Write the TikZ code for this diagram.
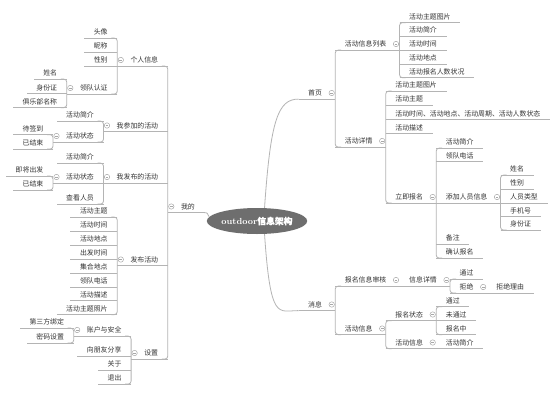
\documentclass[tikz,border=0pt]{standalone}
\usepackage{fontspec}
\usetikzlibrary{shapes.geometric,calc}
\newfontfamily\cjk{Noto Sans CJK SC}
\newfontfamily\cjkb[FakeBold=0.8]{Noto Sans CJK SC}
\definecolor{txt}{HTML}{333333}
\definecolor{lc}{HTML}{B4B4B4}
\definecolor{mc}{HTML}{A8A8A8}
\definecolor{rootc}{HTML}{6E6E6E}
\tikzset{
  base/.style={font=\cjk\fontsize{6.9}{8}\selectfont, text=txt, inner xsep=9.5pt, inner ysep=2.4pt, text height=6pt, text depth=1pt},
  rn/.style={base, anchor=west},
  lnd/.style={base, anchor=east},
  ul/.style={draw=lc, line width=0.8pt},
  tr/.style={ul, rounded corners=3pt},
  mk/.style={circle, draw=mc, fill=white, line width=0.5pt, inner sep=0pt, minimum size=5.4pt,
    path picture={\draw[mc, line width=0.5pt] ([xshift=-1.4pt]path picture bounding box.center) -- ([xshift=1.4pt]path picture bounding box.center);}},
  rootn/.style={ellipse, fill=rootc, text=white, minimum width=88pt, minimum height=26pt, inner sep=0pt}
}
% right side
\newcommand\myRL[4]{\node[rn] (#1) at (#2 |- 0,#3) {#4}; \draw[ul] (#1.south west) -- (#1.south east);}
\newcommand\myRP[4]{\node[rn] (#1) at (#2 |- 0,#3) {#4}; \coordinate (t#1) at ($(#1.south east)+(3.5,0)$); \draw[ul] (#1.south west) -- (t#1); \node[mk] at (#1.east) {};}
\newcommand\myTR[2]{\draw[tr] ($(#1.south west)+(6,0)$) -- (#1.south west) -- (#2.south west) -- ($(#2.south west)+(6,0)$);}
% left side
\newcommand\myLL[4]{\node[lnd] (#1) at (#2 |- 0,#3) {#4}; \draw[ul] (#1.south east) -- (#1.south west);}
\newcommand\myLP[4]{\node[lnd] (#1) at (#2 |- 0,#3) {#4}; \coordinate (t#1) at ($(#1.south west)-(3.5,0)$); \draw[ul] (#1.south east) -- (t#1); \node[mk] at (#1.west) {};}
\newcommand\myTL[2]{\draw[tr] ($(#1.south east)-(6,0)$) -- (#1.south east) -- (#2.south east) -- ($(#2.south east)-(6,0)$);}
\begin{document}
\begin{tikzpicture}[x=1pt,y=-1pt]
\fill[white] (0,0) rectangle (554,413);
\useasboundingbox (0,0) rectangle (554,413);

% root
\node[rootn] (root) at (257,221) {\fontsize{8.8}{10}\selectfont\bfseries outdoor{\cjkb 信息架构}};

% ---------------- right: 首页
\coordinate (c0r) at (298.5,0);
\myRP{sy}{c0r}{93}{首页}
\draw[ul] (root.60) .. controls +(6,-88) and +(-20.5,0) .. (sy.south west);
\myRP{hdlb}{tsy}{44}{活动信息列表}
\myRP{hdxq}{tsy}{141}{活动详情}
\myTR{hdlb}{hdxq}
\myRL{a1}{thdlb}{16.5}{活动主题图片}
\myRL{a2}{thdlb}{30.3}{活动简介}
\myRL{a3}{thdlb}{44}{活动时间}
\myRL{a4}{thdlb}{57.8}{活动地点}
\myRL{a5}{thdlb}{71.6}{活动报名人数状况}
\myTR{a1}{a5}
\myRL{b1}{thdxq}{85}{活动主题图片}
\myRL{b2}{thdxq}{99}{活动主题}
\myRL{b3}{thdxq}{113.5}{活动时间、活动地点、活动周期、活动人数状态}
\myRL{b4}{thdxq}{127.5}{活动描述}
\myRP{ljbm}{thdxq}{197}{立即报名}
\myTR{b1}{ljbm}
\myRL{c1}{tljbm}{142}{活动简介}
\myRL{c2}{tljbm}{155.5}{领队电话}
\myRP{tjry}{tljbm}{197}{添加人员信息}
\myRL{c4}{tljbm}{238}{备注}
\myRL{c5}{tljbm}{252}{确认报名}
\myTR{c1}{c5}
\myRL{d1}{ttjry}{169}{姓名}
\myRL{d2}{ttjry}{183}{性别}
\myRL{d3}{ttjry}{197}{人员类型}
\myRL{d4}{ttjry}{210.5}{手机号}
\myRL{d5}{ttjry}{224}{身份证}
\myTR{d1}{d5}

% ---------------- right: 消息
\myRP{xx}{c0r}{304.5}{消息}
\draw[ul] (root.-60) .. controls +(6,88) and +(-20.5,0) .. (xx.south west);
\myRP{bmsh}{txx}{280}{报名信息审核}
\myRP{hdxx}{txx}{328.5}{活动信息}
\myTR{bmsh}{hdxx}
\myRP{xxxq}{tbmsh}{280}{信息详情}
\myRL{e1}{txxxq}{273}{通过}
\myRP{jj}{txxxq}{287}{拒绝}
\myTR{e1}{jj}
\myRL{jjly}{tjj}{287}{拒绝理由}
\myRP{bmzt}{thdxx}{314.5}{报名状态}
\myRP{hdxxb}{thdxx}{342.5}{活动信息}
\myTR{bmzt}{hdxxb}
\myRL{f1}{tbmzt}{300.5}{通过}
\myRL{f2}{tbmzt}{314.5}{未通过}
\myRL{f3}{tbmzt}{328.5}{报名中}
\myTR{f1}{f3}
\myRL{g1}{thdxxb}{342.5}{活动简介}

% ---------------- left: 我的
\coordinate (c0l) at (204.5,0);
\myLP{wd}{c0l}{206.5}{我的}
\draw[ul] (wd.south east) .. controls +(5,0) and +(-3,-2) .. (root.175);
\myLP{grxx}{twd}{60}{个人信息}
\myLP{wcj}{twd}{125.5}{我参加的活动}
\myLP{wfb}{twd}{177}{我发布的活动}
\myLP{fbhd}{twd}{259.5}{发布活动}
\myLP{sz}{twd}{353}{设置}
\myTL{grxx}{sz}
\myLL{h1}{tgrxx}{32}{头像}
\myLL{h2}{tgrxx}{46}{昵称}
\myLL{h3}{tgrxx}{60}{性别}
\myLP{ldrz}{tgrxx}{88}{领队认证}
\myTL{h1}{ldrz}
\myLL{i1}{tldrz}{73}{姓名}
\myLL{i2}{tldrz}{87.5}{身份证}
\myLL{i3}{tldrz}{101.5}{俱乐部名称}
\myTL{i1}{i3}
\myLL{j1}{twcj}{115}{活动简介}
\myLP{hdzta}{twcj}{136}{活动状态}
\myTL{j1}{hdzta}
\myLL{k1}{thdzta}{128.5}{待签到}
\myLL{k2}{thdzta}{143}{已结束}
\myTL{k1}{k2}
\myLL{l1}{twfb}{157}{活动简介}
\myLP{hdztb}{twfb}{177}{活动状态}
\myLL{l3}{twfb}{198}{查看人员}
\myTL{l1}{l3}
\myLL{m1}{thdztb}{170}{即将出发}
\myLL{m2}{thdztb}{184}{已结束}
\myTL{m1}{m2}
\myLL{n1}{tfbhd}{211}{活动主题}
\myLL{n2}{tfbhd}{225}{活动时间}
\myLL{n3}{tfbhd}{239}{活动地点}
\myLL{n4}{tfbhd}{253}{出发时间}
\myLL{n5}{tfbhd}{267}{集合地点}
\myLL{n6}{tfbhd}{281}{领队电话}
\myLL{n7}{tfbhd}{294.5}{活动描述}
\myLL{n8}{tfbhd}{308.5}{活动主题照片}
\myTL{n1}{n8}
\myLP{zhaq}{tsz}{330}{账户与安全}
\myLL{o2}{tsz}{350}{向朋友分享}
\myLL{o3}{tsz}{364}{关于}
\myLL{o4}{tsz}{378}{退出}
\myTL{zhaq}{o4}
\myLL{p1}{tzhaq}{322}{第三方绑定}
\myLL{p2}{tzhaq}{337}{密码设置}
\myTL{p1}{p2}
\end{tikzpicture}
\end{document}
